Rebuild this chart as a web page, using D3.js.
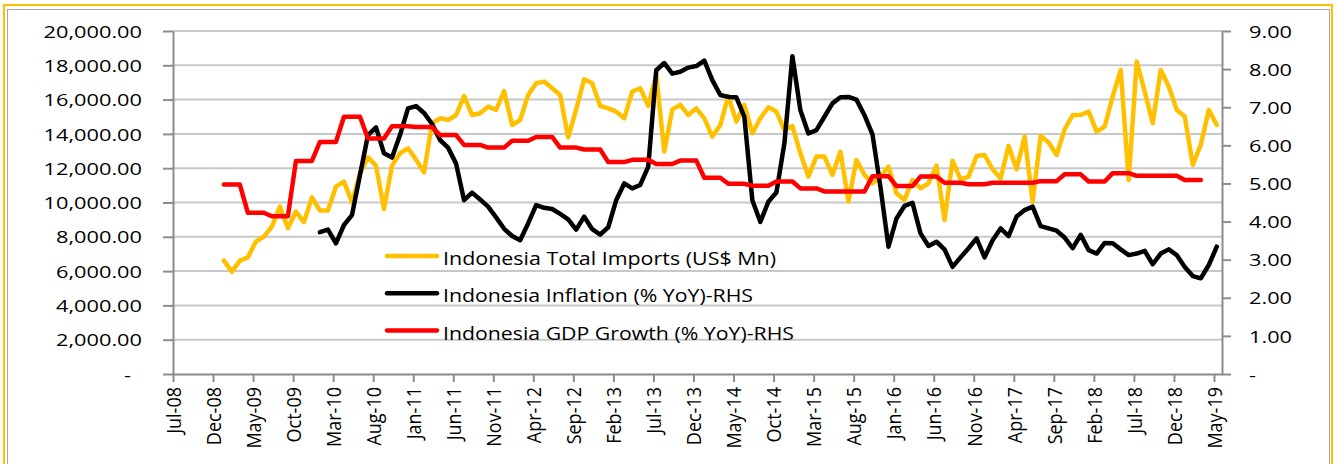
<!DOCTYPE html>
<html lang="en">
<head>
<meta charset="utf-8">
<title>Indonesia Imports, Inflation and GDP Growth</title>
<script src="https://d3js.org/d3.v7.min.js"></script>
<style>
	body { margin: 0; background: #fff; }
	text { font-family: "Open Sans", sans-serif; fill: #000; }
</style>
</head>
<body>
<script>
	// Month index 0 = Jul-08, the first label on the x axis
	var axisStartYear = 2008;
	var axisStartMonth = 6;   // July (0-based)
	var axisMonths = 131;     // axis runs to Jun-19
	var labelEvery = 5;       // one label every 5 months

	// Indonesia Total Imports (US$ Mn), monthly from Jan-09
	var importsStart = 6;
	var importsValues = [
		6610, 5970, 6610, 6800, 7720, 8010, 8590, 9760, 8500, 9470, 8850, 10300,
		9530, 9530, 10930, 11220, 10010, 11700, 12640, 12150, 9620, 12150, 12870, 13160,
		12500, 11760, 14620, 14910, 14810, 15100, 16210, 15100, 15200, 15590, 15400, 16500,
		14520, 14810, 16270, 16950, 17050, 16660, 16270, 13800, 15430, 17190, 16950, 15630,
		15490, 15300, 14910, 16470, 16660, 15630, 17440, 12970, 15430, 15690, 15100, 15490,
		14910, 13840, 14520, 16210, 14720, 15690, 14040, 14910, 15550, 15300, 14230, 14460,
		12870, 11510, 12680, 12680, 11610, 12970, 10050, 12480, 11610, 11120, 11510, 12090,
		10540, 10150, 11310, 10830, 11120, 12150, 8980, 12440, 11350, 11510, 12710, 12770,
		11940, 11410, 13300, 11940, 13840, 10050, 13880, 13500, 12770, 14270, 15100, 15100,
		15300, 14130, 14430, 16180, 17730, 11310, 18220, 16470, 14620, 17730, 16760, 15400,
		15010, 12190, 13360, 15400, 14520
	];

	// Indonesia Inflation (% YoY), monthly from Jan-10
	var inflationStart = 18;
	var inflationValues = [
		3.72, 3.79, 3.43, 3.91, 4.17, 5.22, 6.27, 6.47, 5.79, 5.68, 6.27, 6.97,
		7.03, 6.85, 6.56, 6.14, 5.94, 5.52, 4.56, 4.76, 4.58, 4.39, 4.11, 3.81,
		3.62, 3.51, 3.95, 4.43, 4.36, 4.33, 4.20, 4.06, 3.79, 4.13, 3.80, 3.66,
		3.85, 4.56, 5.00, 4.87, 4.96, 5.44, 7.97, 8.16, 7.88, 7.93, 8.04, 8.08,
		8.22, 7.71, 7.32, 7.27, 7.26, 6.75, 4.56, 3.99, 4.52, 4.76, 6.05, 8.34,
		6.92, 6.31, 6.40, 6.75, 7.10, 7.26, 7.27, 7.20, 6.79, 6.29, 4.90, 3.34,
		4.08, 4.41, 4.49, 3.69, 3.36, 3.47, 3.27, 2.81, 3.06, 3.30, 3.56, 3.06,
		3.51, 3.82, 3.62, 4.13, 4.30, 4.39, 3.88, 3.82, 3.76, 3.58, 3.30, 3.65,
		3.25, 3.16, 3.44, 3.43, 3.27, 3.12, 3.16, 3.23, 2.88, 3.16, 3.27, 3.12,
		2.81, 2.57, 2.51, 2.86, 3.34
	];

	// Indonesia GDP Growth (% YoY), quarterly figure repeated for each month, from Jan-09
	var gdpStart = 6;
	var gdpValues = [
		4.97, 4.97, 4.97, 4.23, 4.23, 4.23, 4.14, 4.14, 4.14, 5.59, 5.59, 5.59,
		6.09, 6.09, 6.09, 6.75, 6.75, 6.75, 6.18, 6.18, 6.18, 6.50, 6.50, 6.50,
		6.48, 6.48, 6.48, 6.27, 6.27, 6.27, 6.01, 6.01, 6.01, 5.94, 5.94, 5.94,
		6.12, 6.12, 6.12, 6.22, 6.22, 6.22, 5.94, 5.94, 5.94, 5.89, 5.89, 5.89,
		5.56, 5.56, 5.56, 5.62, 5.62, 5.62, 5.51, 5.51, 5.51, 5.60, 5.60, 5.60,
		5.15, 5.15, 5.15, 4.99, 4.99, 4.99, 4.94, 4.94, 4.94, 5.05, 5.05, 5.05,
		4.87, 4.87, 4.87, 4.79, 4.79, 4.79, 4.79, 4.79, 4.79, 5.19, 5.19, 5.19,
		4.93, 4.93, 4.93, 5.18, 5.18, 5.18, 5.02, 5.02, 5.02, 4.98, 4.98, 4.98,
		5.02, 5.02, 5.02, 5.02, 5.02, 5.02, 5.06, 5.06, 5.06, 5.24, 5.24, 5.24,
		5.05, 5.05, 5.05, 5.27, 5.27, 5.27, 5.20, 5.20, 5.20, 5.20, 5.20, 5.20,
		5.09, 5.09, 5.09
	];

	// Axis ticks
	var leftTicks = [0, 2000, 4000, 6000, 8000, 10000, 12000, 14000, 16000, 18000, 20000];
	var rightTicks = [0, 1, 2, 3, 4, 5, 6, 7, 8, 9];

	var seriesNames = [
		"Indonesia Total Imports (US$ Mn)",
		"Indonesia Inflation (% YoY)-RHS",
		"Indonesia GDP Growth (% YoY)-RHS"
	];
	var seriesColors = ["#FFC000", "#000000", "#FF0000"];

	// Width and height of SVG
	var w = 1336;
	var h = 464;

	// Plot area (names kept off window.top and friends)
	var plotLeft = 173, plotRight = 1222, plotTop = 31, plotBottom = 374;
	var pointShift = 0.35;  // points sit a little after their month tick
	var textStretch = 1.28; // the axis text is drawn wide

	var x = d3.scaleLinear().domain([0, axisMonths]).range([plotLeft, plotRight]);
	var yLeft = d3.scaleLinear().domain([0, 20000]).range([plotBottom, plotTop]);
	var yRight = d3.scaleLinear().domain([0, 9]).range([plotBottom, plotTop]);

	var svg = d3.select("body")
		.append("svg")
		.attr("width", w)
		.attr("height", h);

	svg.append("rect")
		.attr("width", w)
		.attr("height", h)
		.attr("fill", "#fff");

	// Frame round the chart (bottom edge lies below the picture)
	svg.append("rect")
		.attr("x", 4).attr("y", 5)
		.attr("width", 1328).attr("height", 500)
		.attr("fill", "none")
		.attr("stroke", "#FFC000")
		.attr("stroke-width", 2);
	svg.append("rect")
		.attr("x", 7.5).attr("y", 9.5)
		.attr("width", 1322).attr("height", 500)
		.attr("fill", "none")
		.attr("stroke", "#a6a6a6")
		.attr("stroke-width", 1);

	// Gridlines for the left axis
	svg.append("g")
		.selectAll("line")
		.data(leftTicks.slice(1))
		.enter()
		.append("line")
		.attr("x1", plotLeft)
		.attr("x2", plotRight)
		.attr("y1", function(d) { return yLeft(d); })
		.attr("y2", function(d) { return yLeft(d); })
		.attr("stroke", "#c8c8c8")
		.attr("stroke-width", 2);

	function styleAxis(g) {
		g.select(".domain").attr("stroke", "#8c8c8c").attr("stroke-width", 2);
		g.selectAll(".tick line").attr("stroke", "#8c8c8c").attr("stroke-width", 2);
		g.selectAll("text").attr("font-size", 17).attr("fill", "#000");
	}

	// Left axis
	var gLeft = svg.append("g")
		.attr("transform", "translate(" + plotLeft + ",0)")
		.call(d3.axisLeft(yLeft)
			.tickValues(leftTicks)
			.tickSize(10)
			.tickSizeOuter(0)
			.tickFormat(function(d) { return d === 0 ? "-" : d3.format(",.2f")(d); }));
	styleAxis(gLeft);
	gLeft.selectAll(".tick text")
		.attr("x", function(d) { return d === 0 ? -42 / textStretch : -31 / textStretch; })
		.attr("dy", "0.36em")
		.attr("transform", "scale(" + textStretch + ",1)");

	// Right axis
	var gRight = svg.append("g")
		.attr("transform", "translate(" + plotRight + ",0)")
		.call(d3.axisRight(yRight)
			.tickValues(rightTicks)
			.tickSize(9)
			.tickSizeOuter(0)
			.tickFormat(function(d) { return d === 0 ? "-" : d3.format(".2f")(d); }));
	styleAxis(gRight);
	gRight.selectAll(".tick text")
		.attr("x", 27 / textStretch)
		.attr("dy", "0.36em")
		.attr("transform", "scale(" + textStretch + ",1)");

	// Bottom axis with rotated month labels
	var monthLabel = d3.utcFormat("%b-%y");
	var gBottom = svg.append("g")
		.attr("transform", "translate(0," + plotBottom + ")")
		.call(d3.axisBottom(x)
			.tickValues(d3.range(0, axisMonths, labelEvery))
			.tickSize(8)
			.tickSizeOuter(0)
			.tickFormat(function(i) {
				return monthLabel(new Date(Date.UTC(axisStartYear, axisStartMonth + i, 1)));
			}));
	styleAxis(gBottom);
	gBottom.selectAll(".tick text")
		.attr("font-size", 18)
		.attr("x", -13)
		.attr("y", 0)
		.attr("dy", "0.36em")
		.attr("transform", "rotate(-90) scale(1,1.12)")
		.style("text-anchor", "end");

	// Series lines
	function drawSeries(values, start, yScale, color) {
		var line = d3.line()
			.x(function(d, i) { return x(start + i + pointShift); })
			.y(function(d) { return yScale(d); });
		svg.append("path")
			.datum(values)
			.attr("d", line)
			.attr("fill", "none")
			.attr("stroke", color)
			.attr("stroke-width", 4.5)
			.attr("stroke-linejoin", "round")
			.attr("stroke-linecap", "round");
	}
	drawSeries(importsValues, importsStart, yLeft, seriesColors[0]);
	drawSeries(inflationValues, inflationStart, yRight, seriesColors[1]);
	drawSeries(gdpValues, gdpStart, yRight, seriesColors[2]);

	// Legend inside the plot
	var legendWidths = [333, 310, 351];
	var legend = svg.append("g")
		.selectAll("g")
		.data(seriesNames)
		.enter()
		.append("g")
		.attr("transform", function(d, i) { return "translate(387," + (256 + i * 37.3) + ")"; });
	legend.append("line")
		.attr("x1", 0)
		.attr("x2", 50)
		.attr("stroke", function(d, i) { return seriesColors[i]; })
		.attr("stroke-width", 4.5)
		.attr("stroke-linecap", "round");
	legend.append("text")
		.attr("x", 56)
		.attr("y", 9)
		.attr("font-size", 19)
		.attr("textLength", function(d, i) { return legendWidths[i]; })
		.attr("lengthAdjust", "spacingAndGlyphs")
		.text(function(d) { return d; });
</script>
</body>
</html>
